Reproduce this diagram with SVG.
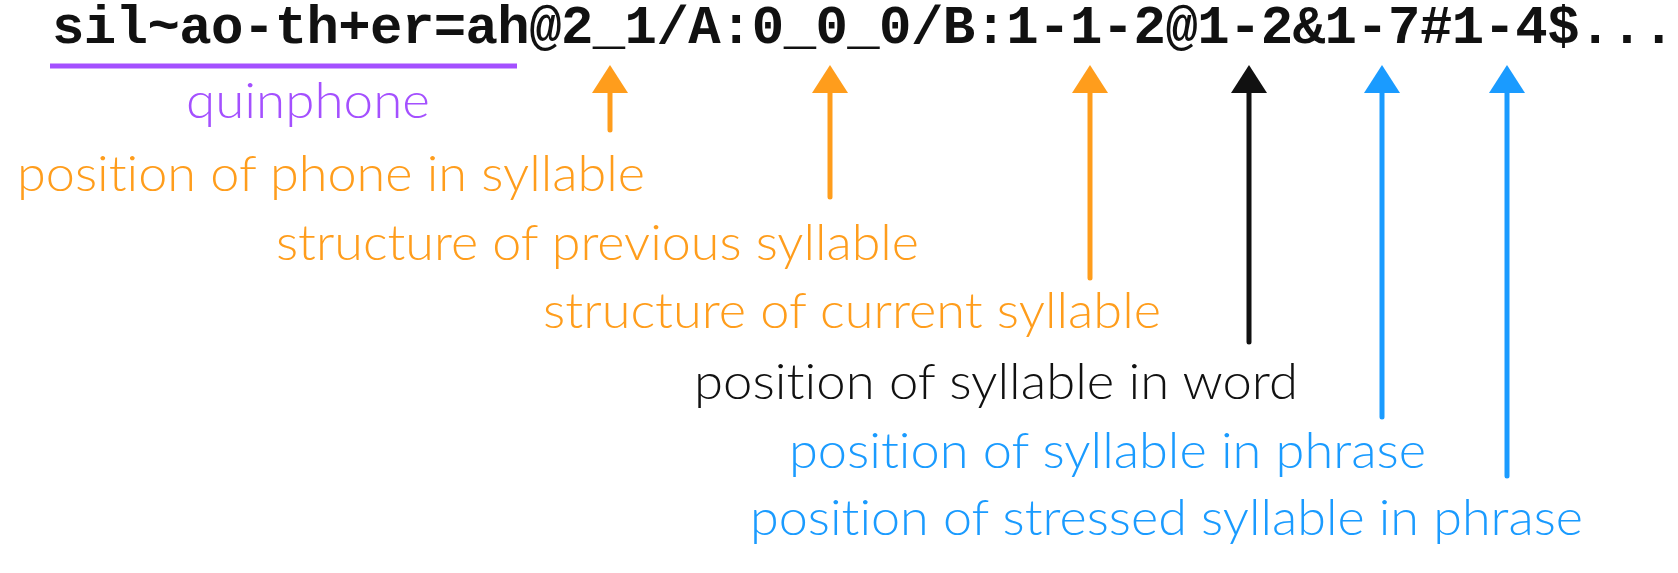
<svg xmlns="http://www.w3.org/2000/svg" width="1678" height="573" viewBox="0 0 1678 573">
  <style>
    .label { font-family: Lato, "Open Sans", "Liberation Sans", sans-serif; font-weight: 300; font-size: 50px; font-variant-ligatures: none; }
    .orange { fill: #ff9d1c; }
    .purple { fill: #a450ff; }
    .blue { fill: #1a9bff; }
    .black { fill: #111111; }
    .shaft { fill: none; stroke-width: 5; stroke-linecap: round; }
  </style>
  <defs>
    <marker id="head-orange" viewBox="0 0 28 36" refX="13" refY="18" markerWidth="28" markerHeight="36" markerUnits="userSpaceOnUse" orient="auto">
      <path d="M0,0 L28,18 L0,36 Z" fill="#ff9d1c"/>
    </marker>
    <marker id="head-black" viewBox="0 0 28 36" refX="13" refY="18" markerWidth="28" markerHeight="36" markerUnits="userSpaceOnUse" orient="auto">
      <path d="M0,0 L28,18 L0,36 Z" fill="#111111"/>
    </marker>
    <marker id="head-blue" viewBox="0 0 28 36" refX="13" refY="18" markerWidth="28" markerHeight="36" markerUnits="userSpaceOnUse" orient="auto">
      <path d="M0,0 L28,18 L0,36 Z" fill="#1a9bff"/>
    </marker>
  </defs>
  <rect width="1678" height="573" fill="#ffffff"/>

  <g id="label-string">
    <text x="52" y="43" font-family="Liberation Mono, Courier New, monospace" font-weight="bold" font-size="54" fill="#111111" textLength="1623" lengthAdjust="spacing">sil~ao-th+er=ah@2_1/A:0_0_0/B:1-1-2@1-2&amp;1-7#1-4$...</text>
  </g>

  <g id="quinphone">
    <path d="M50,66 L517,66" stroke="#a450ff" stroke-width="5" fill="none"/>
    <text class="label purple" x="186" y="118" textLength="244" lengthAdjust="spacingAndGlyphs">quinphone</text>
  </g>
  <g id="phone-position">
    <text class="label orange" x="17" y="191" textLength="628" lengthAdjust="spacingAndGlyphs">position of phone in syllable</text>
  </g>
  <g id="previous-syllable">
    <text class="label orange" x="276" y="260" textLength="643" lengthAdjust="spacingAndGlyphs">structure of previous syllable</text>
  </g>
  <g id="current-syllable">
    <text class="label orange" x="543" y="328" textLength="618" lengthAdjust="spacingAndGlyphs">structure of current syllable</text>
  </g>
  <g id="syllable-in-word">
    <text class="label black" x="694" y="399" textLength="604" lengthAdjust="spacingAndGlyphs">position of syllable in word</text>
  </g>
  <g id="syllable-in-phrase">
    <text class="label blue" x="789" y="468" textLength="637" lengthAdjust="spacingAndGlyphs">position of syllable in phrase</text>
  </g>
  <g id="stressed-syllable-in-phrase">
    <text class="label blue" x="750" y="535" textLength="833" lengthAdjust="spacingAndGlyphs">position of stressed syllable in phrase</text>
  </g>

  <g id="connectors">
    <path class="shaft" d="M610,130 L610,80" stroke="#ff9d1c" marker-end="url(#head-orange)"/>
    <path class="shaft" d="M830,197 L830,80" stroke="#ff9d1c" marker-end="url(#head-orange)"/>
    <path class="shaft" d="M1090,278 L1090,80" stroke="#ff9d1c" marker-end="url(#head-orange)"/>
    <path class="shaft" d="M1249,342 L1249,80" stroke="#111111" marker-end="url(#head-black)"/>
    <path class="shaft" d="M1382,417 L1382,80" stroke="#1a9bff" marker-end="url(#head-blue)"/>
    <path class="shaft" d="M1507,476 L1507,80" stroke="#1a9bff" marker-end="url(#head-blue)"/>
  </g>
</svg>
